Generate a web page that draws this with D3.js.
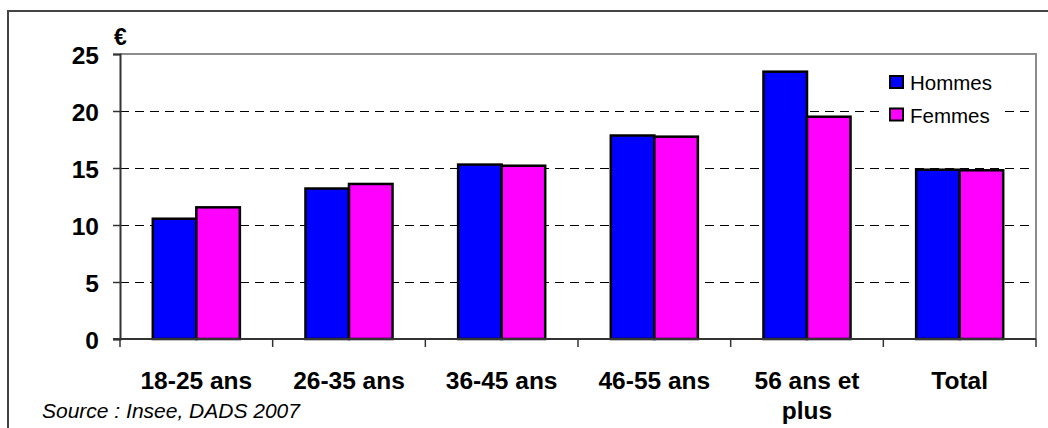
<!DOCTYPE html>
<html>
<head>
<meta charset="utf-8">
<script src="https://cdn.jsdelivr.net/npm/d3@7"></script>
<style>
  body { margin: 0; background: #fff; }
  svg { display: block; font-family: Arial, "Liberation Sans", sans-serif; }
</style>
</head>
<body>
<svg id="chart" width="1048" height="428"></svg>
<script>
// salaire horaire net moyen par tranche d'age
var categories = ["18-25 ans", "26-35 ans", "36-45 ans", "46-55 ans", "56 ans et plus", "Total"];
var series = ["Hommes", "Femmes"];
var hommes = [10.55, 13.2, 15.3, 17.85, 23.45, 14.85];
var femmes = [11.55, 13.6, 15.2, 17.75, 19.5, 14.8];
var yTicks = [0, 5, 10, 15, 20, 25];
var colors = ["#0000ff", "#ff00ff"];

var svg = d3.select("#chart");
var plotLeft = 120, plotRight = 1036, plotTop = 54, plotBottom = 339;

// cadre exterieur
svg.append("rect")
    .attr("x", 8).attr("y", 11)
    .attr("width", 1100).attr("height", 500)
    .attr("fill", "none")
    .attr("stroke", "#444")
    .attr("stroke-width", 2);

var y = d3.scaleLinear().domain([0, 25]).range([plotBottom, plotTop]);
var x0 = d3.scaleBand().domain(categories).range([plotLeft, plotRight]).padding(0);
var gap = 32.8;
var x1 = d3.scaleBand().domain(series).range([gap, x0.bandwidth() - gap]).padding(0);

// grille pointillee
svg.append("g")
    .selectAll("line")
    .data(yTicks.filter(d => d > 0 && d < 25))
    .join("line")
    .attr("x1", plotLeft).attr("x2", plotRight)
    .attr("y1", d => y(d) + 0.5).attr("y2", d => y(d) + 0.5)
    .attr("stroke", "#000")
    .attr("stroke-width", 1.3)
    .attr("shape-rendering", "crispEdges")
    .attr("stroke-dasharray", "9,6");

// bord haut et droit de la zone de tracé
svg.append("path")
    .attr("d", "M" + plotLeft + "," + plotTop + "H" + plotRight + "V" + plotBottom)
    .attr("fill", "none")
    .attr("stroke", "#8c8c8c")
    .attr("stroke-width", 2);

// barres
var rows = categories.map((c, i) => ({cat: c, values: [hommes[i], femmes[i]]}));

svg.append("g")
    .selectAll("g")
    .data(rows)
    .join("g")
    .attr("transform", d => "translate(" + x0(d.cat) + ",0)")
    .selectAll("rect")
    .data(d => d.values.map((v, j) => ({key: series[j], value: v, color: colors[j]})))
    .join("rect")
    .attr("x", d => x1(d.key))
    .attr("y", d => y(d.value))
    .attr("width", x1.bandwidth())
    .attr("height", d => plotBottom - y(d.value))
    .attr("fill", d => d.color)
    .attr("stroke", "#000")
    .attr("stroke-width", 2.5);

// axe Y
var yAxis = svg.append("g")
    .attr("transform", "translate(" + plotLeft + ",0)")
    .call(d3.axisLeft(y).tickValues(yTicks).tickSize(7).tickPadding(14));
yAxis.select(".domain").attr("stroke", "#333").attr("stroke-width", 2);
yAxis.selectAll(".tick line").attr("stroke", "#333").attr("stroke-width", 1.5);
yAxis.selectAll(".tick text")
    .attr("font-size", "24.5px")
    .attr("font-weight", "bold")
    .attr("fill", "#000")
    .attr("font-family", "Arial, 'Liberation Sans', sans-serif")
    .attr("dy", "0.38em");

// axe X
svg.append("line")
    .attr("x1", plotLeft - 7).attr("x2", plotRight)
    .attr("y1", plotBottom).attr("y2", plotBottom)
    .attr("stroke", "#333").attr("stroke-width", 2);

var boundaries = categories.map(c => x0(c)).concat([plotRight]);
svg.append("g")
    .selectAll("line")
    .data(boundaries)
    .join("line")
    .attr("x1", d => d).attr("x2", d => d)
    .attr("y1", plotBottom).attr("y2", plotBottom + 8)
    .attr("stroke", "#333").attr("stroke-width", 1.5);

var labels = svg.append("g")
    .selectAll("text")
    .data(categories)
    .join("text")
    .attr("x", d => x0(d) + x0.bandwidth() / 2)
    .attr("y", 389)
    .attr("text-anchor", "middle")
    .attr("font-size", "24.5px")
    .attr("font-weight", "bold")
    .attr("fill", "#000");

labels.each(function(d) {
    var lines = d === "56 ans et plus" ? ["56 ans et", "plus"] : [d];
    d3.select(this).selectAll("tspan")
        .data(lines)
        .join("tspan")
        .attr("x", x0(d) + x0.bandwidth() / 2)
        .attr("dy", (l, i) => i === 0 ? 0 : 30)
        .text(l => l);
});

// unite
svg.append("text")
    .attr("x", 114).attr("y", 45)
    .attr("font-size", "23px")
    .attr("font-weight", "bold")
    .text("€");

// legende (fond blanc qui masque la grille)
svg.append("rect")
    .attr("x", 882).attr("y", 68)
    .attr("width", 122).attr("height", 62)
    .attr("fill", "#fff");

var legend = svg.append("g")
    .selectAll("g")
    .data(series)
    .join("g")
    .attr("transform", (d, i) => "translate(890," + (76 + i * 32.5) + ")");

legend.append("rect")
    .attr("width", 13).attr("height", 12)
    .attr("fill", (d, i) => colors[i])
    .attr("stroke", "#000")
    .attr("stroke-width", 2);

legend.append("text")
    .attr("x", 20).attr("y", 14)
    .attr("font-size", "20.5px")
    .attr("fill", "#000")
    .text(d => d);

// source
svg.append("text")
    .attr("x", 42).attr("y", 417.5)
    .attr("font-size", "21px")
    .attr("font-style", "italic")
    .attr("fill", "#000")
    .text("Source : Insee, DADS 2007");
</script>
</body>
</html>
